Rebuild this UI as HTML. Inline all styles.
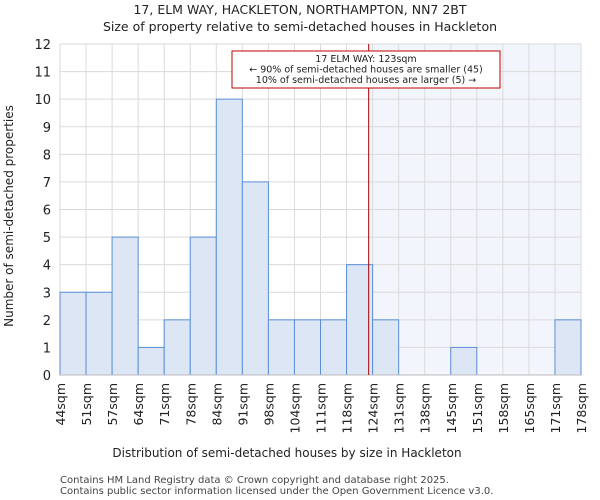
<!DOCTYPE html>
<html><head><meta charset="utf-8"><style>
body{margin:0;background:#fff}
svg{display:block;font-family:"DejaVu Sans","Liberation Sans",sans-serif}
</style></head><body>
<svg id="c" width="600" height="500">
<text x="300" y="14" text-anchor="middle" font-size="12.5" fill="#222">17, ELM WAY, HACKLETON, NORTHAMPTON, NN7 2BT</text>
<text x="300" y="31" text-anchor="middle" font-size="12.5" fill="#222">Size of property relative to semi-detached houses in Hackleton</text>
<text x="287" y="457" text-anchor="middle" font-size="12" fill="#222">Distribution of semi-detached houses by size in Hackleton</text>
<text transform="translate(13,216) rotate(-90)" text-anchor="middle" font-size="12" fill="#222">Number of semi-detached properties</text>
<text x="60" y="483" font-size="10" fill="#444">Contains HM Land Registry data © Crown copyright and database right 2025.</text>
<text x="60" y="494" font-size="10" fill="#444">Contains public sector information licensed under the Open Government Licence v3.0.</text>
<g id="g"></g>
</svg>
<script>
const categories=["44sqm","51sqm","57sqm","64sqm","71sqm","78sqm","84sqm","91sqm","98sqm","104sqm","111sqm","118sqm","124sqm","131sqm","138sqm","145sqm","151sqm","158sqm","165sqm","171sqm","178sqm"];
const counts=[3,3,5,1,2,5,10,7,2,2,2,4,2,0,0,1,0,0,0,2];
const yTicks=[0,1,2,3,4,5,6,7,8,9,10,11,12];
const markerBin=11.85;
const L=60,R=581,T=44,B=375,yMax=12;
const n=counts.length,bw=(R-L)/n;
const x=i=>L+i*bw, y=v=>B-(v/yMax)*(B-T);
const g=document.getElementById('g'),NS="http://www.w3.org/2000/svg";
function mk(t,a,p){const e=document.createElementNS(NS,t);for(const k in a)e.setAttribute(k,a[k]);(p||g).appendChild(e);return e;}
const mx=x(markerBin);
let hl=mk('rect',{x:mx,y:T,width:R-mx,height:B-T,fill:'#f3f5fc'});


for(let i=0;i<=n;i++){let l=mk('line',{x1:x(i),x2:x(i),y1:T,y2:B,stroke:'#dadada'});

}
yTicks.forEach(v=>{let l=mk('line',{x1:L,x2:R,y1:y(v),y2:y(v),stroke:'#dadada'});


let t=mk('text',{x:L-9,y:y(v)+5,'text-anchor':'end','font-size':13,fill:'#222'});t.textContent=v;

});
counts.forEach((c,i)=>{if(c>0){let r=mk('rect',{x:x(i),y:y(c),width:bw,height:y(0)-y(c),fill:'#dce6f4',stroke:'#5b8fd6','stroke-width':1});

}});
mk('line',{x1:L,x2:R,y1:B,y2:B,stroke:'#bbb'});
categories.forEach((c,i)=>{let t=mk('text',{transform:`translate(${x(i)+5},${B+8}) rotate(-90)`,'text-anchor':'end','font-size':12.5,fill:'#222'});t.textContent=c;

});
let ml=mk('line',{x1:mx,x2:mx,y1:T,y2:B,stroke:'#a00000','stroke-width':1});


let box=mk('rect',{x:232,y:51,width:268,height:37,fill:'#fff',stroke:'#c00000'});


["17 ELM WAY: 123sqm","← 90% of semi-detached houses are smaller (45)","10% of semi-detached houses are larger (5) →"].forEach((s,k)=>{let t=mk('text',{x:366,y:62+k*10.5,'text-anchor':'middle','font-size':9.5,fill:'#222'});t.textContent=s;

});
</script>
</body></html>
